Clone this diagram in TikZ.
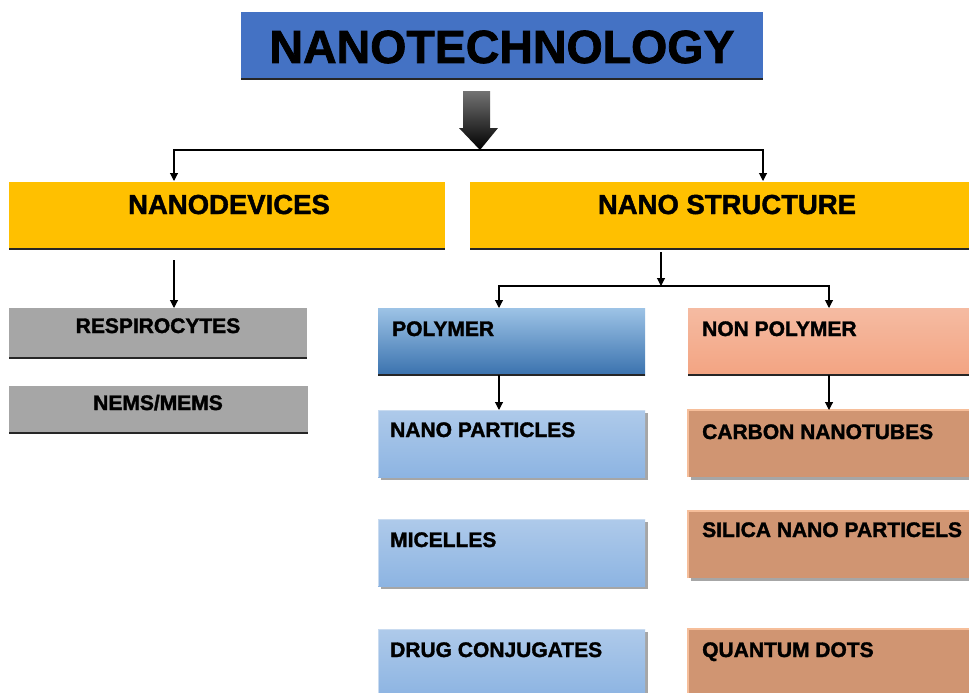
\documentclass[tikz,border=0pt]{standalone}
\usepackage{fontspec}
\setmainfont{Liberation Sans}
\newfontfamily\lblfont[FakeBold=1.6]{Liberation Sans Bold}
\usetikzlibrary{arrows.meta,calc}
\definecolor{tblue}{HTML}{4472C4}
\definecolor{gold}{HTML}{FFC000}
\definecolor{greybox}{HTML}{A6A6A6}
\definecolor{polytop}{HTML}{9DC3E6}
\definecolor{polymid}{HTML}{5B9BD5}
\definecolor{polybot}{HTML}{3A72AE}
\definecolor{nptop}{HTML}{F5BBA2}
\definecolor{npbot}{HTML}{F3A482}
\definecolor{lbtop}{HTML}{AECAEA}
\definecolor{lbbot}{HTML}{8DB4E2}
\definecolor{brown}{HTML}{D09572}
\definecolor{brownedge}{HTML}{F6BE9A}
\definecolor{lbedge}{HTML}{C9DBF0}
\tikzset{
  boxbase/.style={anchor=north west, inner sep=0pt, outer sep=0pt, draw=none},
  bigtxt/.style={font=\lblfont\fontsize{27.5}{30}\selectfont, inner sep=0pt, anchor=base},
  smalltxt/.style={font=\lblfont\fontsize{21}{24}\selectfont, inner sep=0pt},
  conn/.style={line width=1.1pt, black, -{Triangle[width=8pt,length=8pt]}},
  plainconn/.style={line width=1.1pt, black},
  botline/.style={line width=1.8pt, black!85},
  shadowbox/.style={fill=black!35}
}
\begin{document}
\begin{tikzpicture}[x=1pt,y=-1pt]
\useasboundingbox (0,0) rectangle (969,693);
\fill[white] (0,0) rectangle (969,693);

% Title
\node[boxbase, fill=tblue, minimum width=522, minimum height=67] (title) at (241,12) {};
\draw[botline] (title.south west) -- (title.south east);
\node[font=\lblfont\fontsize{46.5}{50}\selectfont, inner sep=0pt, anchor=base] (titleT) at (502,63) {NANOTECHNOLOGY};

% Big arrow
\coordinate (bigtop) at (476,91);
\coordinate (j1) at (480,150);
\shade[top color=black!55, bottom color=black] (463,91) -- (490,91) -- (490,128) -- (498,128) -- (j1) -- (459,128) -- (463,128) -- cycle;

% Level 1
\node[boxbase, fill=gold, minimum width=436, minimum height=67] (devs) at (9,182) {};
\draw[botline] (devs.south west) -- (devs.south east);
\node[bigtxt] (devsT) at (229,214) {NANODEVICES};

\node[boxbase, fill=gold, minimum width=500, minimum height=67] (struct) at (470,182) {};
\draw[botline] (struct.south west) -- (struct.south east);
\node[bigtxt] (structT) at (727,214) {NANO STRUCTURE};

\coordinate (devIn) at (174,181);
\coordinate (structIn) at (763,181);
\draw[conn] (j1) -| (devIn);
\draw[conn] (j1) -| (structIn);

% Nanodevices children
\node[boxbase, fill=greybox, minimum width=298, minimum height=50] (resp) at (9,308) {};
\draw[botline] (resp.south west) -- (resp.south east);
\node[smalltxt, anchor=base] (respT) at (158,333) {RESPIROCYTES};

\node[boxbase, fill=greybox, minimum width=299, minimum height=47] (nems) at (9,386) {};
\draw[botline] (nems.south west) -- (nems.south east);
\node[smalltxt, anchor=base] (nemsT) at (158,410) {NEMS/MEMS};

\coordinate (devOut) at (174,260);
\draw[conn] (devOut) -- (devOut |- resp.north);

% Nano structure split
\coordinate (structOut) at (661,252);
\coordinate (j2) at (661,286);
\draw[conn] (structOut) -- (j2);

\node[boxbase, top color=polytop, middle color=polymid, bottom color=polybot, minimum width=267, minimum height=67] (poly) at (378,308) {};
\draw[botline] (poly.south west) -- (poly.south east);
\node[smalltxt, anchor=base west] (polyT) at ($(poly.north west)+(14,28)$) {POLYMER};

\node[boxbase, top color=nptop, bottom color=npbot, minimum width=282, minimum height=67] (nonpoly) at (688,308) {};
\draw[botline] (nonpoly.south west) -- (nonpoly.south east);
\node[smalltxt, anchor=base west] (nonpolyT) at ($(nonpoly.north west)+(14,28)$) {NON POLYMER};

\draw[conn] (j2) -| ($(poly.north west)+(121,0)$);
\draw[conn] (j2) -| ($(nonpoly.north west)+(141,0)$);

% Polymer children
\foreach \nm/\yy/\txt/\bl in {np/410/NANO PARTICLES/27, mic/519/MICELLES/28, drug/629/DRUG CONJUGATES/28}{
  \fill[shadowbox] (381,\yy+3) rectangle (648,\yy+70);
  \node[boxbase, top color=lbtop, bottom color=lbbot, minimum width=267, minimum height=67] (\nm) at (378,\yy) {};
  \draw[lbedge, line width=0.8pt] (\nm.south west) -- (\nm.north west) -- (\nm.north east);
  \node[smalltxt, anchor=base west] (\nm T) at ($(\nm.north west)+(12,\bl)$) {\txt};
}
\coordinate (pOut) at ($(poly.south west)+(121,0)$);
\draw[conn] (pOut) -- (pOut |- np.north);

% Non polymer children
\foreach \nm/\yy/\txt/\bl in {cnt/410/CARBON NANOTUBES/29, sil/511/SILICA NANO PARTICELS/26, qd/629/QUANTUM DOTS/28}{
  \fill[shadowbox] (691,\yy+3) rectangle (972,\yy+70);
  \node[boxbase, fill=brown, minimum width=282, minimum height=67] (\nm) at (688,\yy) {};
  \draw[brownedge, line width=1.2pt] (\nm.south west) -- (\nm.north west) -- (\nm.north east);
  \node[smalltxt, anchor=base west] (\nm T) at ($(\nm.north west)+(14,\bl)$) {\txt};
}
\coordinate (nOut) at ($(nonpoly.south west)+(141,0)$);
\draw[conn] (nOut) -- (nOut |- cnt.north);
\end{tikzpicture}
\end{document}
